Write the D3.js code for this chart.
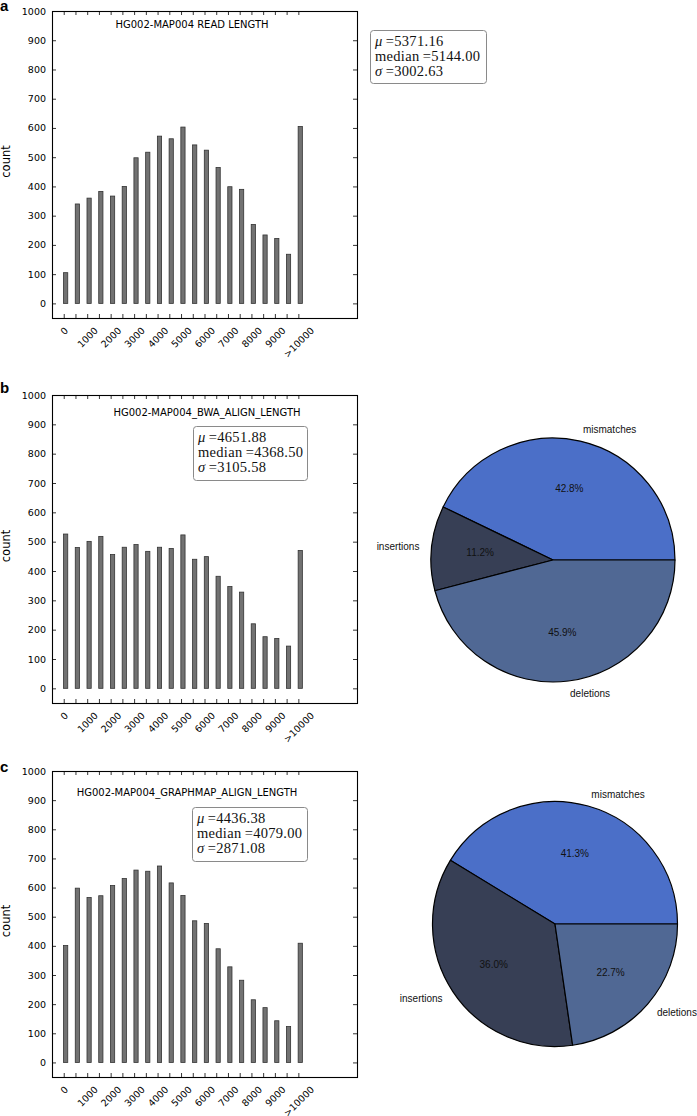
<!DOCTYPE html>
<html><head><meta charset="utf-8">
<script src="https://cdn.jsdelivr.net/npm/d3@7"></script>
<style>body{margin:0;background:#fff;} svg{display:block;overflow:hidden;}</style>
</head><body>
<svg id="chart" width="697" height="1116"></svg>
<script>
// ---------- data ----------
const binStarts = [0,500,1000,1500,2000,2500,3000,3500,4000,4500,5000,5500,6000,6500,7000,7500,8000,8500,9000,9500,10000];
const xTickValues = [0,1000,2000,3000,4000,5000,6000,7000,8000,9000,10000];
const xTickLabels = ["0","1000","2000","3000","4000","5000","6000","7000","8000","9000",">10000"];
const yTickValues = [0,100,200,300,400,500,600,700,800,900,1000];
const readLength = [105,340,360,383,367,400,498,517,572,563,603,542,524,465,399,390,270,234,222,168,605];
const bwaAlignLength = [526,480,501,518,456,481,490,467,481,477,523,440,449,382,347,328,220,176,170,144,470];
const graphmapAlignLength = [401,598,566,572,607,631,660,656,674,616,573,486,477,390,328,282,215,188,143,123,409];
const panelTitles = ["HG002-MAP004 READ LENGTH","HG002-MAP004_BWA_ALIGN_LENGTH","HG002-MAP004_GRAPHMAP_ALIGN_LENGTH"];
const panelLetters = ["a","b","c"];
const statMeans = ["5371.16","4651.88","4436.38"];
const statMedians = ["5144.00","4368.50","4079.00"];
const statSigmas = ["3002.63","3105.58","2871.08"];
const errorTypes = ["mismatches","insertions","deletions"];
const bwaErrorPct = [42.8,11.2,45.9];
const graphmapErrorPct = [41.3,36.0,22.7];
const errorColors = ["#4b6fc8","#373f55","#506894"];

// ---------- layout ----------
const svg = d3.select("#chart");
const sans = "'DejaVu Sans', sans-serif";
const histLayout = [
  {top:11, bottom:318, values:readLength, titleX:192, titleY:24, box:{x:370,y:30,w:116,h:53}, letterY:11},
  {top:395, bottom:703, values:bwaAlignLength, titleX:207, titleY:412, box:{x:193,y:426,w:114,h:54}, letterY:393},
  {top:771, bottom:1077, values:graphmapAlignLength, titleX:187, titleY:792, box:{x:192,y:807,w:115,h:54}, letterY:772}
];
const pieLayout = [
  {cx:553, cy:560, r:122, values:bwaErrorPct},
  {cx:555, cy:924, r:122.5, values:graphmapErrorPct}
];

function drawHist(p, idx) {
  const g = svg.append("g");
  const x = d3.scaleLinear().domain([-500,12500]).range([52,357]);
  const y = d3.scaleLinear().domain([-50,1000]).range([p.bottom,p.top]);

  g.selectAll("rect.bar").data(p.values).join("rect").attr("class","bar")
    .attr("x",(d,i)=>x(binStarts[i])-0.2)
    .attr("width",x(180)-x(0))
    .attr("y",d=>y(d))
    .attr("height",d=>y(0)-y(d))
    .attr("fill","#727272").attr("stroke","#333").attr("stroke-width",0.8);

  const left = g.append("g").attr("transform","translate(52,0)")
    .call(d3.axisLeft(y).tickValues(yTickValues).tickSize(-4).tickPadding(6).tickSizeOuter(0).tickFormat(d3.format("d")));
  const right = g.append("g").attr("transform","translate(357,0)")
    .call(d3.axisRight(y).tickValues(yTickValues).tickSize(-4).tickFormat("").tickSizeOuter(0));
  const top = g.append("g").attr("transform",`translate(0,${p.top})`)
    .call(d3.axisTop(x).tickValues(binStarts).tickSize(-4).tickFormat("").tickSizeOuter(0));
  const bottom = g.append("g").attr("transform",`translate(0,${p.bottom})`)
    .call(d3.axisBottom(x).tickValues(binStarts).tickSize(-4).tickSizeOuter(0)
      .tickFormat(v => { const k = xTickValues.indexOf(v); return k >= 0 ? xTickLabels[k] : ""; }));
  [left,right,top,bottom].forEach(a => {
    a.select(".domain").remove();
    a.selectAll("line").attr("stroke","#000").attr("stroke-width",0.8);
    a.selectAll("text").attr("font-family",sans).attr("font-size",9.5).attr("fill","#000");
  });
  const fs = 9.5, pad = 7;
  bottom.selectAll("text").each(function(){
    const t = d3.select(this);
    const L = this.getComputedTextLength();
    const h = fs*1.15;
    const c = pad + (L + h)/(2*Math.SQRT2);
    t.attr("y",0).attr("dy","0.35em").attr("text-anchor","middle")
     .attr("transform",`translate(0,${c}) rotate(-45)`);
  });

  g.append("rect").attr("x",52.5).attr("y",p.top+0.5).attr("width",305).attr("height",p.bottom-p.top)
    .attr("fill","none").attr("stroke","#000").attr("stroke-width",1.1);

  g.append("text").attr("x",p.titleX).attr("y",p.titleY).attr("dy","0.36em")
    .attr("text-anchor","middle").attr("font-family",sans).attr("font-size",10)
    .text(panelTitles[idx]);

  g.append("text").attr("transform",`translate(10,${(p.top+p.bottom)/2-3}) rotate(-90)`)
    .attr("text-anchor","middle").attr("font-family",sans).attr("font-size",11.5).text("count");

  g.append("text").attr("x",0).attr("y",p.letterY).attr("font-family","'Liberation Sans', Arial, sans-serif")
    .attr("font-weight","bold").attr("font-size",15).text(panelLetters[idx]);

  // stats box
  const b = p.box;
  g.append("rect").attr("x",b.x+0.5).attr("y",b.y+0.5).attr("width",b.w).attr("height",b.h)
    .attr("rx",3).attr("fill","#fff").attr("stroke","#8a8a8a").attr("stroke-width",1);
  const lines = [["μ", statMeans[idx], true],["median", statMedians[idx], false],["σ", statSigmas[idx], true]];
  lines.forEach((ln,k) => {
    const t = g.append("text").attr("x",b.x+5).attr("y",b.y+11+k*15).attr("dy","0.36em")
      .attr("font-family","'Liberation Serif', 'DejaVu Serif', serif").attr("font-size",14.5)
      .attr("letter-spacing",0.3).attr("fill","#111");
    t.append("tspan").attr("font-style",ln[2]?"italic":"normal").text(ln[0]);
    t.append("tspan").text("\u2009=" + ln[1]);
  });
}

function drawPie(p) {
  const g = svg.append("g").attr("transform",`translate(${p.cx},${p.cy})`);
  const pie = d3.pie().sort(null).value(d=>d).startAngle(Math.PI/2).endAngle(Math.PI/2 - 2*Math.PI);
  const arcs = pie(p.values);
  const arc = d3.arc().innerRadius(0).outerRadius(p.r);
  g.selectAll("path").data(arcs).join("path").attr("d",arc)
    .attr("fill",(d,i)=>errorColors[i]).attr("stroke","#000").attr("stroke-width",1.2).attr("stroke-linejoin","round");
  const font = "'Liberation Sans', Arial, sans-serif";
  arcs.forEach((a,i) => {
    const mid = (a.startAngle + a.endAngle)/2;
    const sx = Math.sin(mid), sy = -Math.cos(mid);
    g.append("text").attr("x",0.6*p.r*sx).attr("y",0.6*p.r*sy).attr("dy","0.35em")
      .attr("text-anchor","middle").attr("font-family",font).attr("font-size",10).attr("fill","#111")
      .text(d3.format(".1f")(p.values[i]) + "%");
    g.append("text").attr("x",1.1*p.r*sx).attr("y",1.1*p.r*sy).attr("dy","0.35em")
      .attr("text-anchor", sx > 0 ? "start" : "end").attr("font-family",font).attr("font-size",10).attr("fill","#111")
      .text(errorTypes[i]);
  });
}

histLayout.forEach(drawHist);
pieLayout.forEach(drawPie);
</script>
</body></html>
